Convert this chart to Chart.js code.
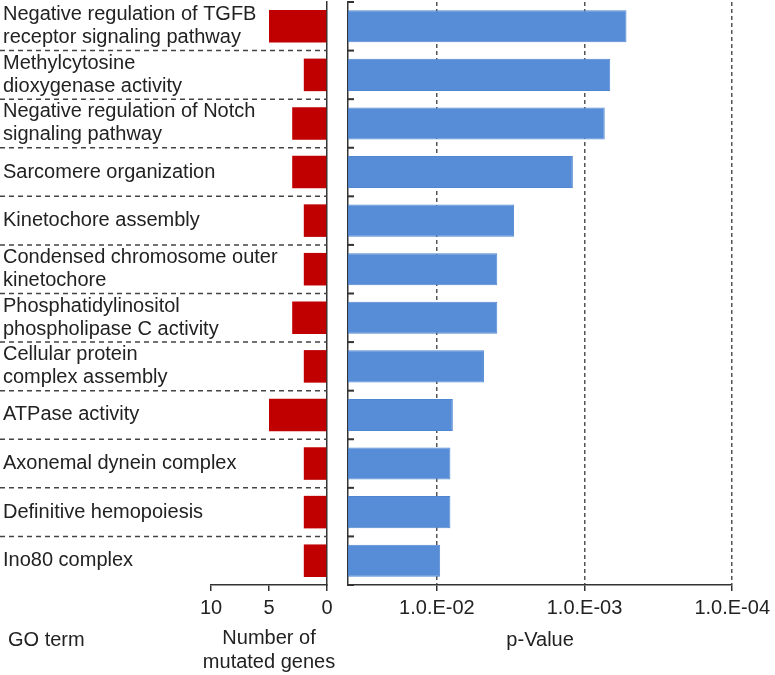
<!DOCTYPE html>
<html>
<head>
<meta charset="utf-8">
<script src="https://cdn.jsdelivr.net/npm/chart.js@4.4.1/dist/chart.umd.min.js"></script>
<style>
  html, body { margin: 0; padding: 0; background: #fff; }
  #wrap { position: relative; width: 775px; height: 675px; }
  #wrap canvas { position: absolute; left: 0; top: 0; }
</style>
</head>
<body>
<div id="wrap">
  <canvas id="genes" width="775" height="675"></canvas>
  <canvas id="pval" width="775" height="675"></canvas>
</div>
<script>
const goTerms = [
  ["Negative regulation of TGFB", "receptor signaling pathway"],
  ["Methylcytosine", "dioxygenase activity"],
  ["Negative regulation of Notch", "signaling pathway"],
  ["Sarcomere organization"],
  ["Kinetochore assembly"],
  ["Condensed chromosome outer", "kinetochore"],
  ["Phosphatidylinositol", "phospholipase C activity"],
  ["Cellular protein", "complex assembly"],
  ["ATPase activity"],
  ["Axonemal dynein complex"],
  ["Definitive hemopoiesis"],
  ["Ino80 complex"],
];
const mutatedGenes = [5, 2, 3, 3, 2, 2, 3, 2, 5, 2, 2, 2];
const pValues = [5.2e-4, 6.7e-4, 7.3e-4, 1.2e-3, 3.0e-3, 3.9e-3, 3.9e-3, 4.8e-3, 7.8e-3, 8.1e-3, 8.1e-3, 9.5e-3];
const geneTicks = [10, 5, 0];
const pTicks = [1e-2, 1e-3, 1e-4];
const pTickLabels = ["1.0.E-02", "1.0.E-03", "1.0.E-04"];
const pAxisMax = 0.04;

const FONT = "'Liberation Sans', Arial, sans-serif";
const INK = "#222";
Chart.defaults.font.family = FONT;
Chart.defaults.font.size = 20;
Chart.defaults.color = INK;

const rowKeys = goTerms.map((t) => t.join(" "));

function boundaries(yScale) {
  const out = [];
  for (let i = 0; i <= rowKeys.length; i++) {
    const a = yScale.getPixelForValue(Math.max(i - 1, 0));
    const b = yScale.getPixelForValue(Math.min(i, rowKeys.length - 1));
    if (i === 0) out.push(a - (yScale.getPixelForValue(1) - a) / 2);
    else if (i === rowKeys.length) out.push(a + (a - yScale.getPixelForValue(i - 2)) / 2);
    else out.push((a + b) / 2);
  }
  return out;
}

// labels, row separators and bottom titles on the left panel
const leftDecor = {
  id: "leftDecor",
  afterDraw(chart) {
    const { ctx, chartArea, scales } = chart;
    const y = scales.y;
    const lines = boundaries(y);
    ctx.save();
    ctx.strokeStyle = "#444";
    ctx.lineWidth = 1.5;
    ctx.setLineDash([5, 4]);
    lines.slice(1, -1).forEach((py) => {
      ctx.beginPath();
      ctx.moveTo(0, py);
      ctx.lineTo(chartArea.right, py);
      ctx.stroke();
    });
    ctx.setLineDash([]);
    ctx.fillStyle = INK;
    ctx.font = `20px ${FONT}`;
    ctx.textBaseline = "middle";
    ctx.textAlign = "left";
    goTerms.forEach((term, i) => {
      const cy = y.getPixelForValue(i);
      const step = 23;
      term.forEach((line, j) => {
        ctx.fillText(line, 3, cy + (j - (term.length - 1) / 2) * step);
      });
    });
    ctx.fillText("GO term", 8, 640);
    ctx.textAlign = "center";
    const cx = (chartArea.left + chartArea.right) / 2;
    ctx.fillText("Number of", cx, 638);
    ctx.fillText("mutated genes", cx, 662);
    ctx.restore();
  },
};

// inward tick marks on the p-value axis
const rightDecor = {
  id: "rightDecor",
  afterDraw(chart) {
    const { ctx, chartArea, scales } = chart;
    ctx.save();
    ctx.strokeStyle = "#333";
    ctx.lineWidth = 2;
    boundaries(scales.y).forEach((py) => {
      ctx.beginPath();
      ctx.moveTo(chartArea.left, py);
      ctx.lineTo(chartArea.left + 6, py);
      ctx.stroke();
    });
    ctx.restore();
  },
};

new Chart(document.getElementById("genes"), {
  type: "bar",
  data: {
    labels: rowKeys,
    datasets: [{ data: mutatedGenes, backgroundColor: "#c00000", categoryPercentage: 1, barPercentage: 0.67 }],
  },
  options: {
    indexAxis: "y",
    responsive: false,
    animation: false,
    events: [],
    layout: { padding: { left: 211, right: 448, top: 2, bottom: 0 } },
    plugins: { legend: { display: false }, tooltip: { enabled: false } },
    scales: {
      x: {
        type: "linear",
        reverse: true,
        min: 0,
        max: 10,
        afterBuildTicks: (scale) => { scale.ticks = geneTicks.map((v) => ({ value: v })); },
        afterFit: (scale) => { scale.height = 90; },
        ticks: { padding: 5, color: INK },
        grid: { drawOnChartArea: false, tickLength: 6, color: "#333", lineWidth: 1.5 },
        border: { color: "#333", width: 1.5 },
      },
      y: {
        type: "category",
        position: "right",
        offset: true,
        afterFit: (scale) => { scale.width = 0; },
        ticks: { display: false },
        grid: { display: false },
        border: { display: true, color: "#333", width: 1.5 },
      },
    },
  },
  plugins: [leftDecor],
});

new Chart(document.getElementById("pval"), {
  type: "bar",
  data: {
    labels: rowKeys,
    datasets: [{
      data: pValues.map((p) => [pAxisMax, p]),
      backgroundColor: "#578dd6",
      borderColor: "#4f86d2",
      borderWidth: 1,
      borderSkipped: false,
      categoryPercentage: 1,
      barPercentage: 0.66,
    }],
  },
  options: {
    indexAxis: "y",
    responsive: false,
    animation: false,
    events: [],
    layout: { padding: { left: 348, right: 39, top: 2, bottom: 0 } },
    plugins: { legend: { display: false }, tooltip: { enabled: false } },
    scales: {
      x: {
        type: "logarithmic",
        reverse: true,
        min: 1e-4,
        max: pAxisMax,
        afterBuildTicks: (scale) => { scale.ticks = pTicks.map((v) => ({ value: v })); },
        afterFit: (scale) => { scale.height = 90; },
        ticks: {
          padding: 5,
          color: INK,
          autoSkip: false,
          maxRotation: 0,
          callback: (v) => pTickLabels[pTicks.findIndex((t) => Math.abs(t - v) / t < 1e-6)] ?? "",
        },
        grid: { color: "#555", lineWidth: 1.5, tickLength: 6, tickColor: "#333" },
        border: { color: "#333", width: 1.5, dash: [4, 3], dashOffset: 0 },
        title: { display: true, text: "p-Value", color: INK, padding: { top: 0, bottom: 23 } },
      },
      y: {
        type: "category",
        position: "left",
        offset: true,
        afterFit: (scale) => { scale.width = 0; },
        ticks: { display: false },
        grid: { display: false },
        border: { display: true, color: "#333", width: 1.5 },
      },
    },
  },
  plugins: [rightDecor],
});
</script>
</body>
</html>
